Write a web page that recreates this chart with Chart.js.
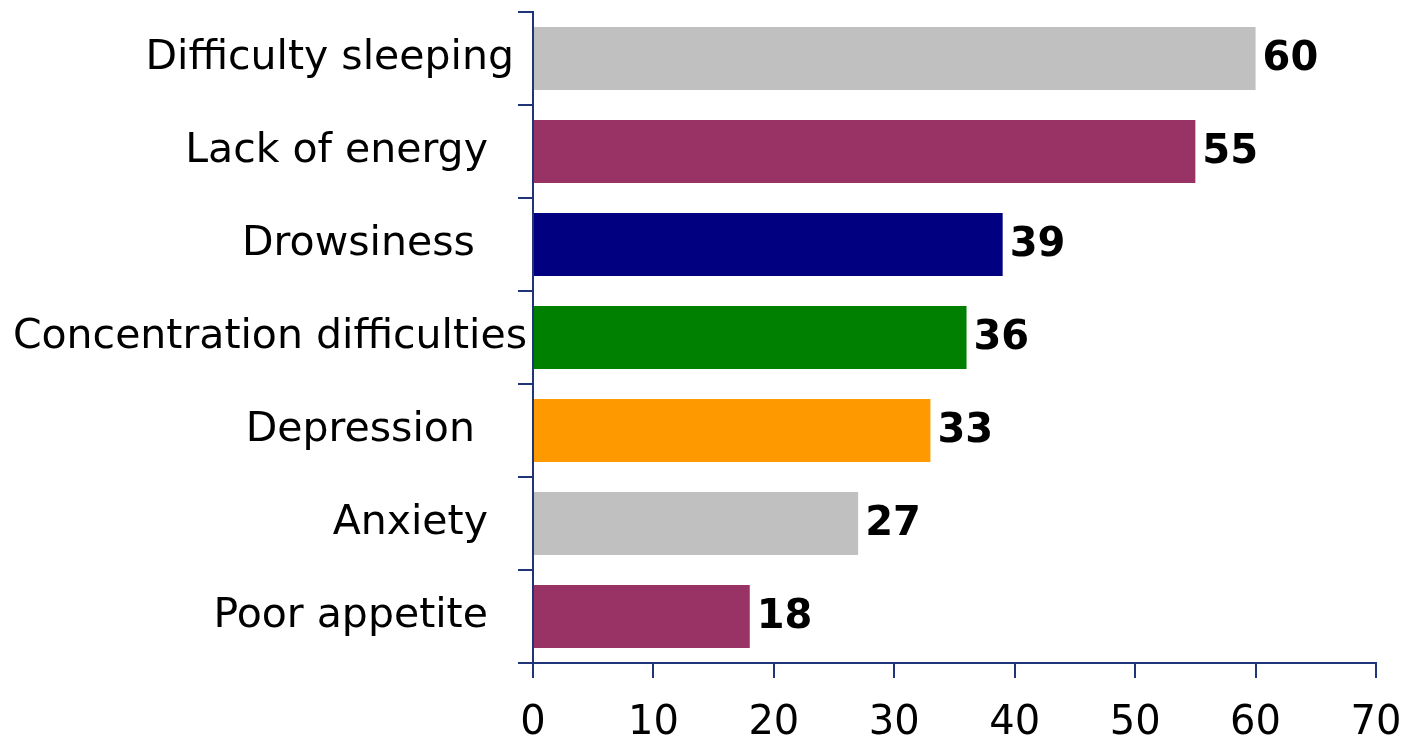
<!DOCTYPE html>
<html>
<head>
<meta charset="utf-8">
<script src="https://cdn.jsdelivr.net/npm/chart.js@4"></script>
<style>
  html, body { margin: 0; padding: 0; background: #fff; }
  #wrap { width: 1409px; height: 743px; }
</style>
</head>
<body>
<div id="wrap"><canvas id="symptomChart" width="1409" height="743"></canvas></div>
<script>
// symptoms, top to bottom (trailing spaces keep the ragged label edge of the original)
const categories = [
    'Difficulty sleeping ',
    'Lack of energy   ',
    'Drowsiness    ',
    'Concentration difficulties',
    'Depression    ',
    'Anxiety   ',
    'Poor appetite   '
];
const values = [60, 55, 39, 36, 33, 27, 18];
const barColors = ['#C0C0C0', '#993366', '#000080', '#008000', '#FF9900', '#C0C0C0', '#993366'];
const xTicks = [0, 10, 20, 30, 40, 50, 60, 70];

const FONT = "'Comic Sans MS', 'DejaVu Sans', sans-serif";
const AXIS = '#1f3577';

// value labels at the end of each bar
const barValueLabels = {
    id: 'barValueLabels',
    afterDatasetsDraw(chart) {
        const ctx = chart.ctx;
        const meta = chart.getDatasetMeta(0);
        ctx.save();
        ctx.font = 'bold 40px ' + FONT;
        ctx.fillStyle = '#000';
        ctx.textAlign = 'left';
        ctx.textBaseline = 'middle';
        meta.data.forEach((bar, i) => {
            ctx.fillText(String(values[i]), bar.x + 7, bar.y + 1);
        });
        ctx.restore();
    }
};

new Chart(document.getElementById('symptomChart'), {
    type: 'bar',
    data: {
        labels: categories,
        datasets: [{
            data: values,
            backgroundColor: barColors,
            borderWidth: 0,
            barPercentage: 0.68,
            categoryPercentage: 1
        }]
    },
    options: {
        indexAxis: 'y',
        responsive: false,
        animation: false,
        layout: { padding: { top: 12, right: 33, left: 0, bottom: 0 } },
        plugins: {
            legend: { display: false },
            tooltip: { enabled: false }
        },
        scales: {
            x: {
                min: 0,
                max: 70,
                afterBuildTicks: (scale) => {
                    scale.ticks = xTicks.map(v => ({ value: v }));
                },
                afterFit: (scale) => {
                    scale.height = 80;
                    scale.paddingLeft = 0;
                    scale.paddingRight = 0;
                },
                border: { color: AXIS, width: 2 },
                grid: {
                    drawOnChartArea: false,
                    color: AXIS,
                    lineWidth: 2,
                    tickLength: 15
                },
                ticks: {
                    color: '#000',
                    padding: 22,
                    maxRotation: 0,
                    font: { family: FONT, size: 40 }
                }
            },
            y: {
                afterFit: (scale) => {
                    scale.width = 533;
                    scale.paddingTop = 0;
                    scale.paddingBottom = 0;
                },
                border: { color: AXIS, width: 2 },
                grid: {
                    drawOnChartArea: false,
                    color: AXIS,
                    lineWidth: 2,
                    tickLength: 15
                },
                ticks: {
                    color: '#000',
                    padding: -9,
                    font: { family: FONT, size: 41 }
                }
            }
        }
    },
    plugins: [barValueLabels]
});
</script>
</body>
</html>
